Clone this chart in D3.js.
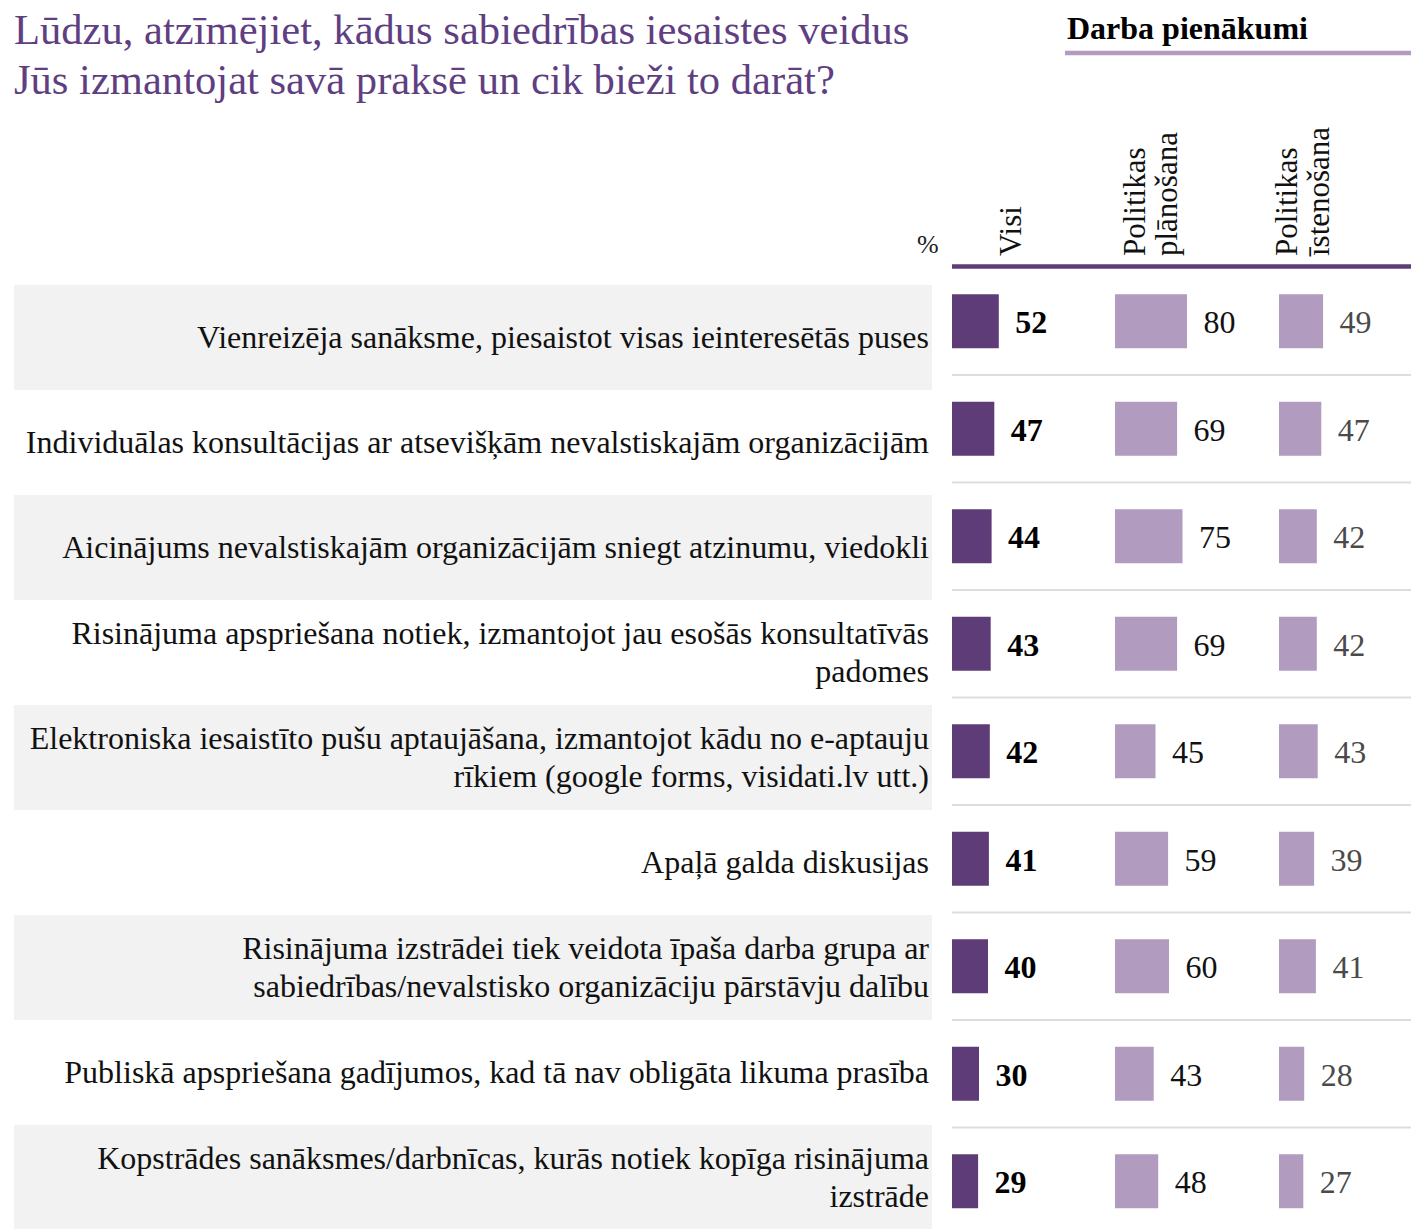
<!DOCTYPE html>
<html>
<head>
<meta charset="utf-8">
<title>Sabiedrības iesaistes veidi</title>
<script src="https://d3js.org/d3.v7.min.js"></script>
<style>
  body { margin: 0; background: #fff; }
  svg { display: block; font-family: "Liberation Serif", "Times New Roman", serif; }
</style>
</head>
<body>
<div id="chart"></div>
<script>
// data
var categories = [
  ["Vienreizēja sanāksme, piesaistot visas ieinteresētās puses"],
  ["Individuālas konsultācijas ar atsevišķām nevalstiskajām organizācijām"],
  ["Aicinājums nevalstiskajām organizācijām sniegt atzinumu, viedokli"],
  ["Risinājuma apspriešana notiek, izmantojot jau esošās konsultatīvās", "padomes"],
  ["Elektroniska iesaistīto pušu aptaujāšana, izmantojot kādu no e-aptauju", "rīkiem (google forms, visidati.lv utt.)"],
  ["Apaļā galda diskusijas"],
  ["Risinājuma izstrādei tiek veidota īpaša darba grupa ar", "sabiedrības/nevalstisko organizāciju pārstāvju dalību"],
  ["Publiskā apspriešana gadījumos, kad tā nav obligāta likuma prasība"],
  ["Kopstrādes sanāksmes/darbnīcas, kurās notiek kopīga risinājuma", "izstrāde"]
];
var visi = [52, 47, 44, 43, 42, 41, 40, 30, 29];
var planosana = [80, 69, 75, 69, 45, 59, 60, 43, 48];
var istenosana = [49, 47, 42, 42, 43, 39, 41, 28, 27];
var seriesNames = [["Visi"], ["Politikas", "plānošana"], ["Politikas", "īstenošana"]];
var titleLines = ["Lūdzu, atzīmējiet, kādus sabiedrības iesaistes veidus",
                  "Jūs izmantojat savā praksē un cik bieži to darāt?"];
var groupTitle = "Darba pienākumi";

var width = 1411, height = 1229;
var dark = "#5e3c78", light = "#b19cc0";

var svg = d3.select("#chart").append("svg")
    .attr("width", width)
    .attr("height", height);

// title
svg.append("g").selectAll("text")
    .data(titleLines)
  .enter().append("text")
    .attr("x", 14)
    .attr("y", function(d, i) { return 43.5 + i * 50; })
    .style("font-size", "42.6px")
    .style("fill", "#5f3f82")
    .text(function(d) { return d; });

// group header
svg.append("text")
    .attr("x", 1067)
    .attr("y", 38.5)
    .style("font-size", "32px")
    .style("font-weight", "bold")
    .text(groupTitle);
svg.append("line")
    .attr("x1", 1065).attr("x2", width)
    .attr("y1", 53).attr("y2", 53)
    .attr("stroke", light)
    .attr("stroke-width", 4.5);

var rowIdx = d3.range(categories.length);

// label panel rows
var yLab = d3.scaleBand().domain(rowIdx).range([285, 285 + 105 * rowIdx.length]);
// bar panel rows
var yBar = d3.scaleBand().domain(rowIdx).range([267.5, 267.5 + 107.5 * rowIdx.length]);
var barH = 54;

var cols = [visi, planosana, istenosana];
var colX = d3.scaleOrdinal().domain([0, 1, 2]).range([952, 1115, 1279]);
var x = d3.scaleLinear().domain([0, 100]).range([0, 90]);

// row bands
svg.append("g").selectAll("rect")
    .data(rowIdx.filter(function(i) { return i % 2 === 0; }))
  .enter().append("rect")
    .attr("x", 14)
    .attr("y", function(i) { return yLab(i); })
    .attr("width", 918)
    .attr("height", yLab.bandwidth())
    .attr("fill", "#f2f2f2");

// row labels
var lab = svg.append("g").selectAll("text")
    .data(rowIdx)
  .enter().append("text")
    .attr("text-anchor", "end")
    .style("font-size", "32px")
    .style("fill", "#111");
lab.selectAll("tspan")
    .data(function(i) {
      var lines = categories[i];
      var c = yLab(i) + yLab.bandwidth() / 2 + 10.5;
      return lines.map(function(t, k) { return {t: t, y: c + (k - (lines.length - 1) / 2) * 38.5}; });
    })
  .enter().append("tspan")
    .attr("x", 929)
    .attr("y", function(d) { return d.y; })
    .text(function(d) { return d.t; });

// "%"
svg.append("text")
    .attr("x", 917)
    .attr("y", 252.5)
    .style("font-size", "26px")
    .style("fill", "#222")
    .text("%");

// column headers (rotated)
var headX = [[1021], [1145, 1177], [1297, 1329]];
seriesNames.forEach(function(lines, c) {
  lines.forEach(function(t, k) {
    svg.append("text")
      .attr("transform", "translate(" + headX[c][k] + ",256) rotate(-90)")
      .style("font-size", "31px")
      .style("fill", "#111")
      .text(t);
  });
});

svg.append("line")
    .attr("x1", 952).attr("x2", width)
    .attr("y1", 266.5).attr("y2", 266.5)
    .attr("stroke", dark)
    .attr("stroke-width", 4.5);

// separators
svg.append("g").selectAll("line")
    .data(rowIdx.slice(0, -1))
  .enter().append("line")
    .attr("x1", 952).attr("x2", width)
    .attr("y1", function(i) { return yBar(i) + yBar.bandwidth(); })
    .attr("y2", function(i) { return yBar(i) + yBar.bandwidth(); })
    .attr("stroke", "#dddddd")
    .attr("stroke-width", 2);

// bars + values
var valStyle = [
  {weight: "bold", color: "#000"},
  {weight: "normal", color: "#111"},
  {weight: "normal", color: "#4a4a4a"}
];
cols.forEach(function(vals, c) {
  var g = svg.append("g").attr("transform", "translate(" + colX(c) + ",0)");
  g.selectAll("rect")
      .data(vals)
    .enter().append("rect")
      .attr("x", 0)
      .attr("y", function(d, i) { return yBar(i) + (yBar.bandwidth() - barH) / 2; })
      .attr("width", function(d) { return x(d); })
      .attr("height", barH)
      .attr("fill", c === 0 ? dark : light);
  g.selectAll("text")
      .data(vals)
    .enter().append("text")
      .attr("x", function(d) { return x(d) + 16.5; })
      .attr("y", function(d, i) { return yBar(i) + yBar.bandwidth() / 2 + 12; })
      .style("font-size", "32px")
      .style("font-weight", valStyle[c].weight)
      .style("fill", valStyle[c].color)
      .text(function(d) { return d; });
});
</script>
</body>
</html>
